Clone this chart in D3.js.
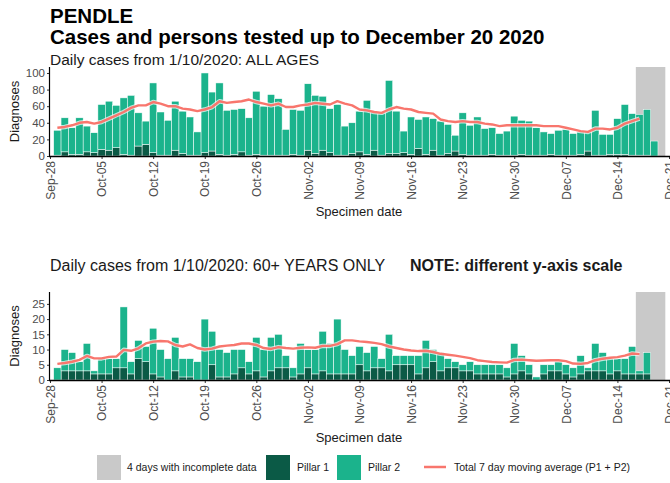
<!DOCTYPE html>
<html><head><meta charset="utf-8">
<script src="https://cdn.jsdelivr.net/npm/d3@7"></script>
<style>
html,body{margin:0;padding:0;background:#fff;}
svg{display:block;font-family:"Liberation Sans",Arial,Helvetica,sans-serif;}
</style></head><body>
<svg id="chart" width="670" height="483"></svg>
<script>
// ---------- data ----------
const firstDay = "2020-09-29";
const lastDay = "2020-12-20";
const incompleteFirst = "2020-12-17";
const incompleteLast = "2020-12-20";
const tickLabels = ["Sep-28","Oct-05","Oct-12","Oct-19","Oct-26","Nov-02","Nov-09","Nov-16","Nov-23","Nov-30","Dec-07","Dec-14","Dec-21"];

// ALL AGES
const allAgesPillar1 = [
 1,5,2,2,5,4,8,7,10,2,
 1,12,14,4,1,1,7,3,1,1,
 4,6,2,1,2,5,1,2,1,1,
 1,1,2,1,7,3,7,4,1,1,
 3,5,2,7,1,3,3,4,2,9,
 2,7,1,3,6,2,1,1,1,2,
 1,1,1,2,1,1,1,2,1,1,
 1,2,6,1,1,2,2,2,1,1,
 1,0,0];
const allAgesPillar2 = [
 30,41,32,44,31,24,54,59,51,68,
 72,40,28,84,52,42,59,51,46,28,
 96,71,86,54,54,52,45,76,59,73,
 68,31,54,54,80,70,65,53,61,35,
 37,49,65,46,51,88,51,26,45,35,
 45,38,41,35,19,50,36,46,32,32,
 26,29,47,41,41,33,28,25,30,31,
 26,27,23,54,25,24,43,60,50,49,
 55,18,0];
const allAgesAvg = [
 34,35,37,40,41,39,41,45,49,53,
 58,61,61,65,63,60,60,57,56,54,
 56,59,66,64,65,66,68,65,63,61,
 63,59,59,61,62,64,63,62,66,63,
 61,56,55,53,52,56,59,57,56,53,
 52,51,44,42,41,42,41,41,39,38,
 36,37,37,37,37,37,36,36,36,34,
 32,30,29,33,33,32,34,39,42,45];

// 60+ YEARS
const over60Pillar1 = [
 0,3,3,3,3,2,2,2,4,4,
 2,7,6,2,1,0,3,1,1,0,
 0,5,1,1,2,4,2,3,1,3,
 4,4,1,2,4,2,3,2,2,2,
 2,5,3,4,4,3,5,5,5,2,
 4,6,3,4,4,3,3,2,2,2,
 2,1,2,3,2,0,2,3,3,2,
 1,2,3,3,3,2,3,2,2,2,
 2,0,0];
const over60Pillar2 = [
 4,7,6,3,9,1,5,5,3,20,
 4,6,5,15,9,7,11,6,6,6,
 20,11,9,8,8,6,4,11,9,11,
 11,4,3,10,6,8,13,10,18,8,
 6,6,6,7,3,12,3,3,3,6,
 9,4,6,3,2,2,3,3,3,3,
 3,3,10,5,3,1,3,2,3,3,
 3,6,1,9,6,5,4,5,9,1,
 7,0,0];
const over60Avg = [
 5.3,5.6,6,6.6,7.9,7.1,7.1,7.6,7.7,9.9,
 9.6,10.4,12,12.6,12.8,12.7,11.5,11,11.7,10.5,
 10,10.3,11,11.3,11.5,12,12,11.5,10.5,10.2,
 10.8,10.5,10.3,10.6,10.7,10.6,11.2,11.2,11.8,13,
 13,12.7,12.5,12.2,11.8,11,10.5,10,9.7,9.5,
 9.6,9.2,8.6,8.3,8,7.6,7.2,6.5,6.2,5.9,
 5.8,5.7,6.6,6.7,6.5,6.3,6.4,6.5,6.5,6.2,
 5.4,5.3,5.6,6.5,7,7.3,7.5,8,8.7,8.5];

// ---------- styles ----------
const C_P1 = "#0b5a46", C_P2 = "#1bb38c", C_GREY = "#c9c9c9", C_LINE = "#f8766d";
const FONT_AXIS = "#4d4d4d";

const svg = d3.select("#chart");
const parseDay = d3.utcParse("%Y-%m-%d");
const parseTick = s => d3.utcParse("%Y-%b-%d")("2020-" + s);
const dates = d3.utcDay.range(parseDay(firstDay), d3.utcDay.offset(parseDay(lastDay), 1));
const tickDates = tickLabels.map(parseTick);

const x = d3.scaleUtc()
  .domain([tickDates[0], tickDates[tickDates.length - 1]])
  .range([50, 669]);
const step = x(d3.utcDay.offset(tickDates[0], 1)) - x(tickDates[0]);

// titles
svg.append("text").attr("x", 50).attr("y", 23).attr("font-size", 20.5).attr("font-weight", "bold").text("PENDLE");
svg.append("text").attr("x", 50).attr("y", 44).attr("font-size", 20.5).attr("font-weight", "bold").text("Cases and persons tested up to December 20 2020");
svg.append("text").attr("x", 50).attr("y", 65).attr("font-size", 15.5).attr("fill", "#1a1a1a").text("Daily cases from 1/10/2020: ALL AGES");
svg.append("text").attr("x", 50).attr("y", 271).attr("font-size", 16).attr("fill", "#1a1a1a").text("Daily cases from 1/10/2020: 60+ YEARS ONLY");
svg.append("text").attr("x", 410).attr("y", 271).attr("font-size", 16).attr("font-weight", "bold").attr("fill", "#1a1a1a").text("NOTE: different y-axis scale");

function panel(p1, p2, avg, top, bottom, yMax, yTicks, labelY) {
  const y = d3.scaleLinear().domain([0, yMax]).range([bottom, top]);
  const g = svg.append("g");

  // incomplete-data band
  const i0 = parseDay(incompleteFirst), i1 = parseDay(incompleteLast);
  g.append("rect")
    .attr("x", x(i0) - step / 2).attr("y", top)
    .attr("width", x(i1) - x(i0) + step).attr("height", bottom - top)
    .attr("fill", C_GREY);

  // stacked bars
  const rows = dates.map((d, i) => ({ d, a: p1[i], b: p2[i] }));
  g.selectAll(".p1").data(rows).join("rect")
    .attr("x", r => x(r.d) - step / 2).attr("width", step)
    .attr("y", r => y(r.a)).attr("height", r => y(0) - y(r.a))
    .attr("fill", C_P1).attr("stroke", "#fff").attr("stroke-width", 0.5);
  g.selectAll(".p2").data(rows).join("rect")
    .attr("x", r => x(r.d) - step / 2).attr("width", step)
    .attr("y", r => y(r.a + r.b)).attr("height", r => y(r.a) - y(r.a + r.b))
    .attr("fill", C_P2).attr("stroke", "#fff").attr("stroke-width", 0.5);

  // moving average line
  const line = d3.line().x((v, i) => x(dates[i])).y(v => y(v));
  g.append("path").attr("d", line(avg)).attr("fill", "none")
    .attr("stroke", "#fff").attr("stroke-opacity", 0.7).attr("stroke-width", 4.5).attr("stroke-linejoin", "round");
  g.append("path").attr("d", line(avg)).attr("fill", "none")
    .attr("stroke", C_LINE).attr("stroke-width", 2.4).attr("stroke-linejoin", "round");

  // y axis
  const ya = g.append("g").attr("transform", "translate(50,0)")
    .call(d3.axisLeft(y).tickValues(yTicks).tickSize(3).tickPadding(2).tickSizeOuter(0));
  ya.select(".domain").remove();
  ya.selectAll("text").attr("font-size", 11.5).attr("fill", FONT_AXIS).attr("font-family", null);
  ya.selectAll("line").attr("stroke", "#333");
  g.append("line").attr("x1", 49.5).attr("x2", 49.5).attr("y1", top).attr("y2", bottom + 0.5).attr("stroke", "#000").attr("stroke-width", 1.2);

  // x axis
  const xa = g.append("g").attr("transform", `translate(0,${bottom})`)
    .call(d3.axisBottom(x).tickValues(tickDates).tickFormat((d, i) => tickLabels[i]).tickSize(3).tickSizeOuter(0));
  xa.select(".domain").remove();
  xa.selectAll("line").attr("stroke", "#333");
  xa.selectAll("text")
    .attr("font-size", 12).attr("fill", FONT_AXIS).attr("font-family", null)
    .attr("transform", "rotate(-90)").attr("x", -5).attr("y", 0).attr("dy", "0.35em")
    .style("text-anchor", "end");
  g.append("line").attr("x1", 49).attr("x2", 670).attr("y1", bottom + 0.5).attr("y2", bottom + 0.5)
    .attr("stroke", "#000").attr("stroke-width", 1.5);

  // axis titles
  g.append("text").attr("transform", `translate(19,${(top + bottom) / 2}) rotate(-90)`)
    .attr("text-anchor", "middle").attr("font-size", 13).attr("fill", "#1a1a1a").text("Diagnoses");
  g.append("text").attr("x", 359).attr("y", labelY).attr("text-anchor", "middle")
    .attr("font-size", 13).attr("fill", "#1a1a1a").text("Specimen date");
}

panel(allAgesPillar1, allAgesPillar2, allAgesAvg, 67, 156, 107.2, [0, 20, 40, 60, 80, 100], 216);
panel(over60Pillar1, over60Pillar2, over60Avg, 292, 380, 28.9, [0, 5, 10, 15, 20, 25], 442);

// legend
const lg = svg.append("g").attr("font-size", 10.5).attr("fill", "#1a1a1a");
lg.append("rect").attr("x", 97).attr("y", 455).attr("width", 24).attr("height", 25).attr("fill", C_GREY);
lg.append("text").attr("x", 127).attr("y", 471).text("4 days with incomplete data");
lg.append("rect").attr("x", 266).attr("y", 455).attr("width", 24).attr("height", 25).attr("fill", C_P1);
lg.append("text").attr("x", 297).attr("y", 471).text("Pillar 1");
lg.append("rect").attr("x", 337).attr("y", 455).attr("width", 24).attr("height", 25).attr("fill", C_P2);
lg.append("text").attr("x", 368).attr("y", 471).text("Pillar 2");
lg.append("line").attr("x1", 424).attr("x2", 446).attr("y1", 467).attr("y2", 467).attr("stroke", C_LINE).attr("stroke-width", 2.5);
lg.append("text").attr("x", 454).attr("y", 471).text("Total 7 day moving average (P1 + P2)");
</script>
</body></html>
